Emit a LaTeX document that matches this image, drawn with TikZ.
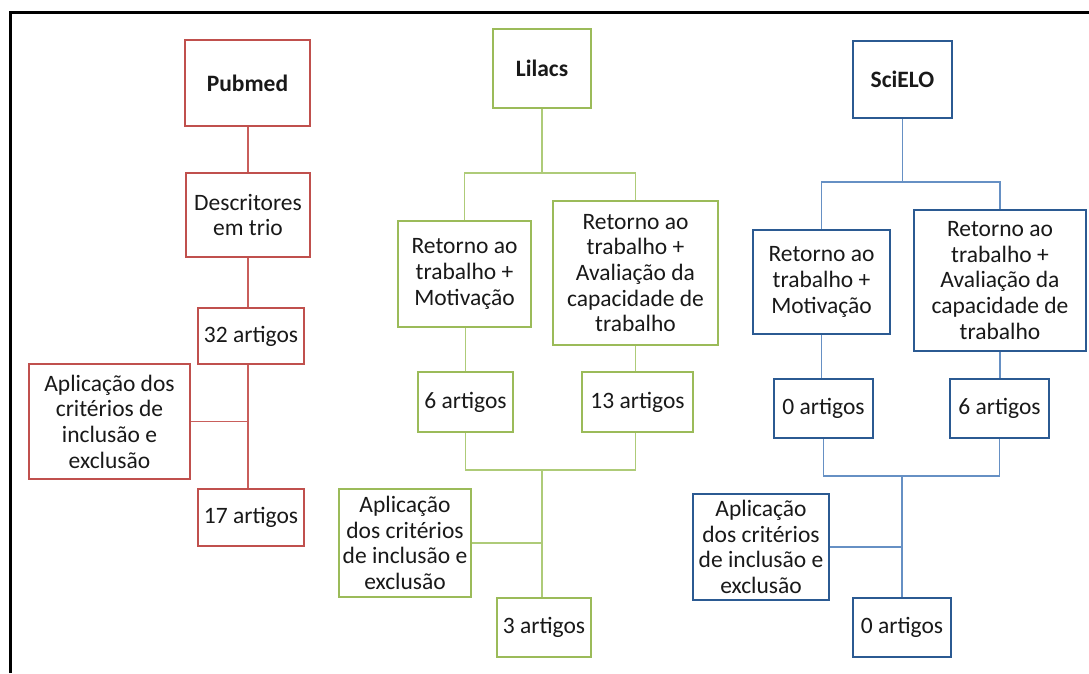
\documentclass[tikz,border=0pt]{standalone}
\usepackage{fontspec}
\setmainfont{Carlito}
\usetikzlibrary{backgrounds}
\definecolor{rbox}{HTML}{C0504D}
\definecolor{rline}{HTML}{C95E5B}
\definecolor{gbox}{HTML}{9BBB59}
\definecolor{gline}{HTML}{AECB78}
\definecolor{bbox}{HTML}{2B5A92}
\definecolor{bline}{HTML}{6690C4}
\begin{document}
\begin{tikzpicture}[x=1pt,y=-1pt,
  box/.style={draw,line width=2.8pt,fill=white,inner sep=0pt,align=center,
    font=\fontsize{23.5}{25.7}\selectfont,text=black!90},
  rb/.style={box,draw=rbox},
  gb/.style={box,draw=gbox},
  bb/.style={box,draw=bbox},
  rl/.style={draw=rline,line width=1.6pt},
  gl/.style={draw=gline,line width=1.8pt},
  bl/.style={draw=bline,line width=1.8pt},
  sz/.style 2 args={minimum width=#1pt,minimum height=#2pt}]
\useasboundingbox (0,0) rectangle (1089,673);

% Pubmed
\node[rb,sz={125}{86},font=\fontsize{23.5}{25.7}\selectfont\bfseries] (pub) at (247.5,83) {Pubmed};
\node[rb,sz={124}{84}] (desc) at (248,215) {Descritores\\em trio};
\node[rb,sz={106}{56}] (r32) at (251,336) {32 artigos};
\node[rb,sz={161}{115}] (rapl) at (109.5,421.5) {Aplica\c{c}\~ao dos\\crit\'erios de\\inclus\~ao e\\exclus\~ao};
\node[rb,sz={106}{57}] (r17) at (251,517.5) {17 artigos};

% Lilacs
\node[gb,sz={98}{79},font=\fontsize{23.5}{25.7}\selectfont\bfseries] (lil) at (542,68.5) {Lilacs};
\node[gb,sz={133}{106}] (g1) at (464.5,274) {Retorno ao\\trabalho +\\Motiva\c{c}\~ao};
\node[gb,sz={165}{144}] (g2) at (635.5,273) {Retorno ao\\trabalho +\\Avalia\c{c}\~ao da\\capacidade de\\trabalho};
\node[gb,sz={95}{60}] (g6) at (465.5,402) {6 artigos};
\node[gb,sz={111}{60}] (g13) at (637.5,402) {13 artigos};
\node[gb,sz={132}{108}] (gapl) at (405,543) {Aplica\c{c}\~ao\\dos crit\'erios\\de inclus\~ao e\\exclus\~ao};
\node[gb,sz={94}{59}] (g3) at (544,627.5) {3 artigos};

% SciELO
\node[bb,sz={99}{77},font=\fontsize{23.5}{25.7}\selectfont\bfseries] (sci) at (902.5,79.5) {SciELO};
\node[bb,sz={137}{104}] (b1) at (821.5,282) {Retorno ao\\trabalho +\\Motiva\c{c}\~ao};
\node[bb,sz={172}{141}] (b2) at (1000,280.5) {Retorno ao\\trabalho +\\Avalia\c{c}\~ao da\\capacidade de\\trabalho};
\node[bb,sz={99}{59}] (b0a) at (823.5,408.5) {0 artigos};
\node[bb,sz={99}{59}] (b6) at (999.5,408.5) {6 artigos};
\node[bb,sz={136}{106}] (bapl) at (761,547) {Aplica\c{c}\~ao\\dos crit\'erios\\de inclus\~ao e\\exclus\~ao};
\node[bb,sz={98}{59}] (b0) at (902,627.5) {0 artigos};

\begin{scope}[on background layer]
\fill[white] (0,0) rectangle (1089,673);
\draw[line width=3.5pt,black] (10.5,673) -- (10.5,12.5) -- (1089,12.5);

\coordinate (rt) at (248,0);
\draw[rl] (pub.south -| rt) -- (desc.north -| rt);
\draw[rl] (desc.south -| rt) -- (r32.north -| rt);
\draw[rl] (r32.south -| rt) -- (r17.north -| rt);
\draw[rl] (rapl.east) -- (rapl.east -| rt);

\coordinate (gsplit) at (542,173);
\coordinate (gmerge) at (542,470);
\draw[gl] (lil.south) -- (gsplit);
\draw[gl] (g1.north) |- (gsplit) -| (g2.north);
\draw[gl] (g1.south -| g6.north) -- (g6.north);
\draw[gl] (g2.south) -- (g2.south |- g13.north);
\draw[gl] (g6.south) |- (gmerge) -| (g2.south |- g13.south);
\draw[gl] (gmerge) -- (gmerge |- g3.north);
\draw[gl] (gapl.east) -- (gapl.east -| gmerge);

\coordinate (bsplit) at (903,182);
\coordinate (bmerge) at (902,476);
\draw[bl] (sci.south) -- (sci.south |- bsplit);
\draw[bl] (b1.north) |- (bsplit) -| (b2.north);
\draw[bl] (b1.south) -- (b1.south |- b0a.north);
\draw[bl] (b2.south) -- (b2.south |- b6.north);
\draw[bl] (b0a.south) |- (bmerge) -| (b6.south);
\draw[bl] (bmerge) -- (b0.north);
\draw[bl] (bapl.east) -- (bapl.east -| bmerge);
\end{scope}
\end{tikzpicture}
\end{document}
